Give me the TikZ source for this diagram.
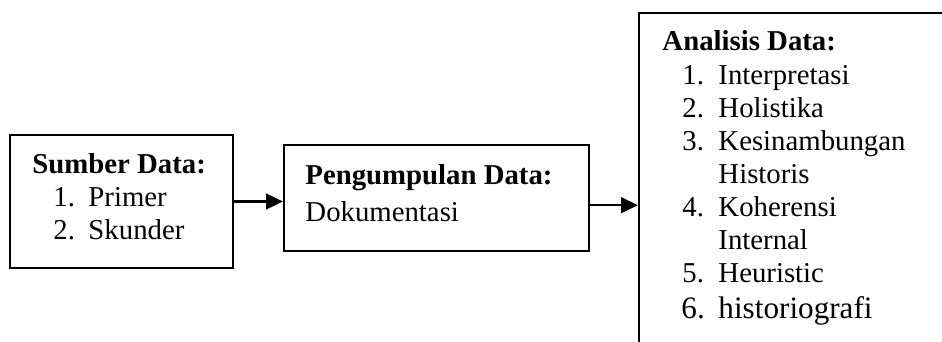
\documentclass[tikz,border=0pt]{standalone}
\usepackage{fontspec}
\setmainfont{Liberation Serif}
\usetikzlibrary{arrows.meta,fit}
\tikzset{
  kotak/.style={draw, line width=0.9pt, inner sep=0pt},
  teks/.style={anchor=base west, inner sep=0pt, font=\fontsize{12}{13.8}\selectfont},
  judul/.style={teks, font=\fontsize{12}{13.8}\selectfont\bfseries},
  panah/.style={-{Triangle[length=7pt,width=6.5pt]}, line width=1pt}
}
\begin{document}
\begin{tikzpicture}[x=0.417pt, y=-0.417pt]
        \useasboundingbox (0,0) rectangle (942,342);
        \clip (0,0) rectangle (942,342);
        % kotak
        \node[kotak, fit={(10,135) (233,268)}] (sumber) {};
        \node[kotak, fit={(284,145) (589,251)}] (pengumpulan) {};
        \node[kotak, fit={(639,13) (990,400)}] (analisis) {};
        % sumber data
        \node[judul] (sumberjudul) at (32,174) {Sumber Data:};
        \foreach \n/\t/\y in {1./Primer/207, 2./Skunder/240} {
            \node[teks] (sn\n) at (53,\y) {\n};
            \node[teks] (st\n) at (88,\y) {\t};
        }
        % pengumpulan data
        \node[judul] (pengumpulanjudul) at (305,185) {Pengumpulan Data:};
        \node[teks] (dokumentasi) at (305,222) {Dokumentasi};
        % analisis data
        \node[judul] (analisisjudul) at (662,51) {Analisis Data:};
        \foreach \n/\y in {1/85, 2/118, 3/151, 4/217, 5/283} {
            \node[teks] (an\n) at (682,\y) {\n.};
        }
        \foreach \t/\y [count=\i] in {Interpretasi/85, Holistika/118, Kesinambungan/151, Historis/184, Koherensi/217, Internal/250, Heuristic/283} {
            \node[teks] (at\i) at (718,\y) {\t};
        }
        \node[teks, font=\fontsize{13}{15}\selectfont] (an6) at (681,319) {6.};
        \node[teks, font=\fontsize{13}{15}\selectfont] (at8) at (718,319) {historiografi};
        % panah
        \draw[panah] (sumber.east) -- (sumber.east -| pengumpulan.west);
        \draw[panah] ([yshift=-3pt]pengumpulan.east) -- ([yshift=-3pt]pengumpulan.east -| analisis.west);
    \end{tikzpicture}
\end{document}
